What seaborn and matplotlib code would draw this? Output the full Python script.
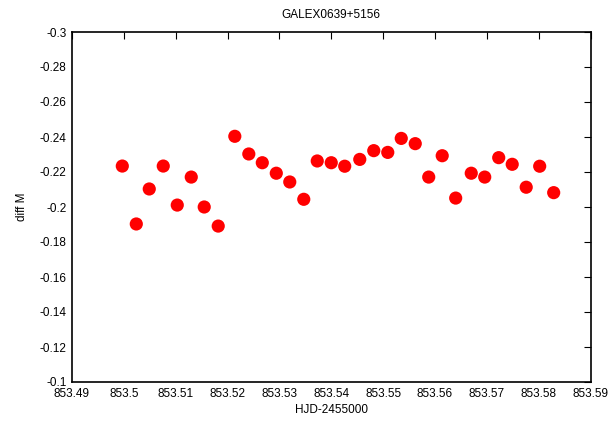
import matplotlib
matplotlib.use("Agg")
import matplotlib.pyplot as plt
import seaborn as sns
import pandas as pd

# Differential photometry of GALEX0639+5156
hjd = [853.4997, 853.5024, 853.5049, 853.5076, 853.5103, 853.5130, 853.5155, 853.5182,
       853.5214, 853.5241, 853.5267, 853.5294, 853.5320, 853.5347, 853.5373, 853.5400,
       853.5426, 853.5455, 853.5482, 853.5509, 853.5535, 853.5562, 853.5588, 853.5614,
       853.5640, 853.5670, 853.5696, 853.5723, 853.5749, 853.5776, 853.5802, 853.5829]
diff_m = [-0.2234, -0.1903, -0.2103, -0.2234, -0.2011, -0.2171, -0.2000, -0.1891,
          -0.2404, -0.2303, -0.2253, -0.2193, -0.2143, -0.2044, -0.2263, -0.2253,
          -0.2233, -0.2272, -0.2322, -0.2312, -0.2392, -0.2362, -0.2171, -0.2293,
          -0.2051, -0.2193, -0.2171, -0.2282, -0.2244, -0.2113, -0.2233, -0.2082]
x_ticks = [853.49, 853.50, 853.51, 853.52, 853.53, 853.54, 853.55, 853.56, 853.57, 853.58, 853.59]
x_labels = ["853.49", "853.5", "853.51", "853.52", "853.53", "853.54", "853.55",
            "853.56", "853.57", "853.58", "853.59"]
y_ticks = [-0.3, -0.28, -0.26, -0.24, -0.22, -0.2, -0.18, -0.16, -0.14, -0.12, -0.1]
y_labels = ["-0.3", "-0.28", "-0.26", "-0.24", "-0.22", "-0.2", "-0.18", "-0.16",
            "-0.14", "-0.12", "-0.1"]

sns.set_theme(style="white")
plt.rcParams["font.family"] = ["Liberation Sans", "DejaVu Sans"]

df = pd.DataFrame({"HJD": hjd, "diffM": diff_m})

fig = plt.figure(figsize=(6.12, 4.23), dpi=100)
ax = fig.add_axes([72 / 612, 1 - 382 / 423, (590.5 - 72) / 612, (382 - 32) / 423])

sns.scatterplot(data=df, x="HJD", y="diffM", ax=ax, color="#ff0000",
                s=90, edgecolor="none", linewidth=0, legend=False)

ax.set_xlim(853.49, 853.59)
ax.set_ylim(-0.1, -0.3)
ax.set_xticks(x_ticks)
ax.set_xticklabels(x_labels)
ax.set_yticks(y_ticks)
ax.set_yticklabels(y_labels)

ax.tick_params(axis="both", direction="in", length=5, width=0.8, color="black",
               labelsize=8.5, labelcolor="black", top=True, right=True, pad=4)
for side in ax.spines.values():
    side.set_color("black")
    side.set_linewidth(1.2)

ax.set_xlabel("HJD-2455000", fontsize=8.5, color="black", labelpad=3)
ax.set_ylabel("diff M", fontsize=8.5, color="black", labelpad=8)
ax.set_title("GALEX0639+5156", fontsize=8.5, color="black", pad=10)

fig.savefig("out.png", dpi=100)
